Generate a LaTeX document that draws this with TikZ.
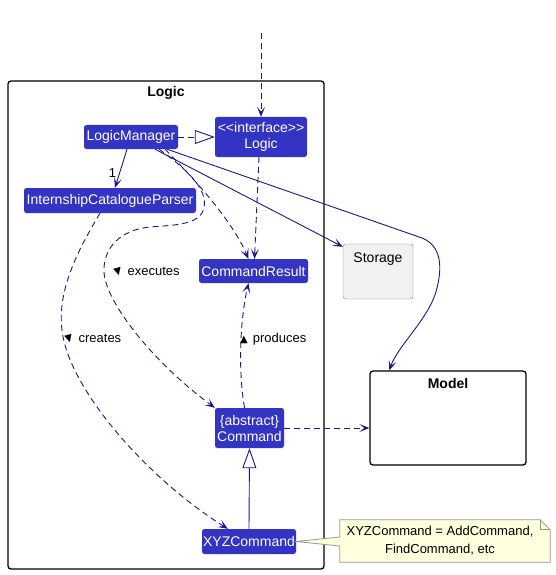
\documentclass[tikz,border=0pt]{standalone}
\usepackage{fontspec}
\setmainfont{Liberation Sans}
\newfontfamily\symfont{DejaVu Sans}
\newcommand\trifont{\symfont\fontsize{10}{10}\selectfont}
\usetikzlibrary{arrows.meta,calc}
\definecolor{clsfill}{RGB}{51,51,196}
\definecolor{ln}{RGB}{24,24,136}
\definecolor{notefill}{RGB}{254,255,221}
\definecolor{notedraw}{RGB}{150,150,140}
\definecolor{storfill}{RGB}{241,241,241}
\tikzset{
 cls/.style={fill=clsfill, text=white, rounded corners=2.5pt, inner sep=0pt, font=\fontsize{14}{16}\selectfont, align=center},
 pkg/.style={draw=black, line width=1.3pt, rounded corners=3pt, inner xsep=0pt, font=\fontsize{14}{16}\selectfont\bfseries},
 conn/.style={draw=ln, line width=0.9pt},
 dep/.style={conn, dash pattern=on 6pt off 4pt},
 arr/.style={-{Stealth[length=10pt,width=8pt,inset=5pt]}},
 real/.style={-{Triangle[length=20pt,width=14pt,fill=white]}},
 lbl/.style={font=\fontsize{13}{15}\selectfont, text=black, inner sep=0pt},
}
\begin{document}
\begin{tikzpicture}[x=1pt,y=-1pt]
\useasboundingbox (0,0) rectangle (555,575);
% packages
\node[pkg, minimum width=316pt, minimum height=488pt, inner ysep=2pt, text height=14pt, text depth=470pt] (logicpkg) at (166,325) {Logic};
\node[pkg, minimum width=156pt, minimum height=94pt, inner ysep=2pt, text height=15pt, text depth=75pt] (model) at (448,418) {Model};
% classes
\node[cls, minimum width=94pt, minimum height=24pt] (lm) at (131,137) {LogicManager};
\node[cls, minimum width=92pt, minimum height=40pt] (logic) at (261,137) {<\kern0pt<interface>\kern0pt>\\Logic};
\node[cls, minimum width=172pt, minimum height=25pt] (parser) at (110,200.5) {InternshipCatalogueParser};
\node[cls, minimum width=109pt, minimum height=24pt] (cr) at (253.5,271) {CommandResult};
\node[cls, minimum width=69pt, minimum height=40pt] (cmd) at (249.5,428) {\{abstract\}\\Command};
\node[cls, minimum width=94pt, minimum height=25pt] (xyz) at (249,541.5) {XYZCommand};
\node[draw=gray, fill=storfill, rounded corners=2.5pt, minimum width=70pt, minimum height=55pt, inner sep=3pt, text height=15pt, text depth=34pt, font=\fontsize{14}{16}\selectfont] (storage) at (378,271.5) {Storage};
% note
\node[minimum width=210pt, minimum height=42pt, inner sep=0pt] (note) at (445,541) {};
\filldraw[fill=notefill, draw=notedraw, line width=0.8pt]
  (note.north west) -- ([xshift=-10pt]note.north east) -- ([yshift=-10pt]note.north east) -- (note.south east) -- (note.south west) -- ([yshift=-5pt]note.west) -- (xyz.east) -- ([yshift=4pt]note.west) -- cycle;
\draw[draw=notedraw, line width=0.8pt] ([xshift=-10pt]note.north east) -- ([xshift=-10pt,yshift=-10pt]note.north east) -- ([yshift=-10pt]note.north east);
\node[align=center, font=\fontsize{13}{18}\selectfont, inner sep=0pt] (notetext) at ([xshift=-5pt]note.center) {XYZCommand = AddCommand,\\FindCommand, etc};
% connectors
\coordinate (topstart) at (261,33);
\draw[dep,arr] (topstart) -- (logic.north);
\draw[dep,real] (lm.east) -- (logic.west);
\draw[conn,arr] ([xshift=-4pt]lm.south) -- node[lbl, pos=0.62, left=3pt]{1} ([xshift=5pt]parser.north);
\draw[conn,arr] ([xshift=24pt]lm.south) -- ([yshift=-3pt]storage.north west);
\draw[conn,arr] ([xshift=36pt]lm.south) -- (422,238) .. controls (442,246) and (442,268) .. (437,288) .. controls (430,318) and (398,345) .. ([xshift=20pt]model.north west);
\draw[dep,arr] ([xshift=-2pt]logic.south) -- ([xshift=1pt]cr.north);
\draw[dep,arr] ([xshift=34pt]lm.south) .. controls (195,180) and (232,220) .. ([xshift=-5pt]cr.north);
\draw[dep,arr] ([xshift=28pt]lm.south) .. controls (185,168) and (208,188) .. (204,208) .. controls (200,225) and (175,225) .. (150,227) .. controls (120,230) and (103,248) .. (104,272) .. controls (105,300) and (150,360) .. (cmd.north west);
\draw[dep,arr] ([xshift=-10pt]parser.south) .. controls (75,255) and (52,300) .. (65,345) .. controls (80,400) and (150,480) .. ([xshift=26pt]xyz.north west);
\draw[dep,arr] ([xshift=-5pt]cmd.north) .. controls (238,370) and (240,320) .. ([xshift=-5pt]cr.south);
\draw[dep,arr] (cmd.east) -- (cmd.east -| model.west);
\draw[conn,real] (xyz.north) -- (cmd.south);
% labels
\node[lbl, anchor=west] (lexec) at (113,272) {\rotatebox{15}{\trifont ▼}\hspace{5pt}executes};
\node[lbl, anchor=west] (lcreate) at (64,339) {\rotatebox{15}{\trifont ▼}\hspace{5pt}creates};
\node[lbl, anchor=west] (lprod) at (240,339) {{\trifont ▲}\hspace{5pt}produces};
\end{tikzpicture}
\end{document}
